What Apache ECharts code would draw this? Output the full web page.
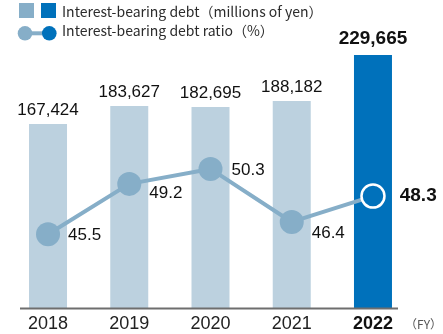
<!DOCTYPE html>
<html>
<head>
<meta charset="utf-8">
<script src="https://cdn.jsdelivr.net/npm/echarts@6/dist/echarts.min.js"></script>
<style>
  html, body { margin: 0; padding: 0; background: #fff; }
  #chart { width: 443px; height: 334px; }
</style>
</head>
<body>
<div id="chart"></div>
<script>
// Fiscal years on the horizontal axis
const years = ['2018', '2019', '2020', '2021', '2022'];
// Interest-bearing debt, millions of yen
const debt = [167424, 183627, 182695, 188182, 229665];
// Interest-bearing debt ratio, %
const debtRatio = [45.5, 49.2, 50.3, 46.4, 48.3];

const LIGHT_BAR = '#bcd1df';
const DARK_BAR = '#0071bb';
const LINE = '#86aec8';
const NUM_FONT = '"Liberation Sans", Arial, sans-serif';
const TEXT_FONT = '"Noto Sans CJK JP", "Noto Sans", sans-serif';
const last = years.length - 1;

const chart = echarts.init(document.getElementById('chart'), null, { renderer: 'canvas' });

const barData = debt.map((v, i) => {
  const current = i === last;
  return {
    value: v,
    itemStyle: { color: current ? DARK_BAR : LIGHT_BAR },
    label: current
      ? { fontSize: 19, fontWeight: 'bold', distance: 7 }
      : { fontSize: 17, fontWeight: 'normal', distance: 5 }
  };
});

// per-point label nudges so the values sit beside their markers
const ratioLabelOffsets = [[0, 1], [0, 9], [1, 1], [0, 11], [0, 0]];
const lineData = debtRatio.map((v, i) => {
  const current = i === last;
  return {
    value: v,
    itemStyle: current
      ? { color: DARK_BAR, borderColor: '#ffffff', borderWidth: 2.5 }
      : { color: LINE },
    symbolSize: current ? 23 : 24,
    label: current
      ? { fontSize: 19, fontWeight: 'bold', distance: 14, offset: ratioLabelOffsets[i] }
      : { fontSize: 17, fontWeight: 'normal', distance: 8, offset: ratioLabelOffsets[i] }
  };
});

chart.setOption({
  animation: false,
  grid: { left: 7.4, right: 29.4, top: 37, bottom: 25, containLabel: false },
  xAxis: {
    type: 'category',
    data: years,
    axisLine: { show: false },
    axisTick: { show: false },
    axisLabel: {
      interval: 0,
      margin: 6,
      fontFamily: NUM_FONT,
      fontSize: 18,
      color: '#222',
      formatter: (v, i) => (i === last ? '{b|' + v + '}' : v),
      rich: { b: { fontFamily: NUM_FONT, fontSize: 18, fontWeight: 'bold', color: '#111' } }
    }
  },
  yAxis: [
    { type: 'value', min: 0, max: 246000, show: false, splitLine: { show: false } },
    { type: 'value', min: 40, max: 60, show: false, splitLine: { show: false } }
  ],
  series: [
    {
      type: 'bar',
      data: barData,
      barWidth: 38,
      label: {
        show: true,
        position: 'top',
        fontFamily: NUM_FONT,
        color: '#111',
        formatter: p => p.value.toLocaleString('en-US')
      },
      z: 1
    },
    {
      type: 'line',
      yAxisIndex: 1,
      data: lineData,
      symbol: 'circle',
      lineStyle: { color: LINE, width: 4 },
      label: {
        show: true,
        position: 'right',
        fontFamily: NUM_FONT,
        color: '#111',
        formatter: p => p.value.toFixed(1)
      },
      z: 3
    }
  ],
  graphic: [
    // baseline under the bars
    { type: 'line', shape: { x1: 20, y1: 308.5, x2: 398, y2: 308.5 }, style: { stroke: '#6e6e6e', lineWidth: 2 }, z: 10 },
    // legend: bars
    { type: 'rect', shape: { x: 19, y: 3, width: 15, height: 15 }, style: { fill: LINE } },
    { type: 'rect', shape: { x: 41, y: 3, width: 15, height: 15 }, style: { fill: DARK_BAR } },
    { type: 'text', x: 62, y: 11.5, style: { text: 'Interest-bearing debt（millions of yen）', font: '14px ' + TEXT_FONT, fill: '#2b2b2b', verticalAlign: 'middle' } },
    // legend: ratio line
    { type: 'line', shape: { x1: 25, y1: 33.3, x2: 49, y2: 33.3 }, style: { stroke: LINE, lineWidth: 4 } },
    { type: 'circle', shape: { cx: 25, cy: 33.3, r: 7.3 }, style: { fill: LINE } },
    { type: 'circle', shape: { cx: 49.3, cy: 33.3, r: 7.3 }, style: { fill: DARK_BAR } },
    { type: 'text', x: 62, y: 30.5, style: { text: 'Interest-bearing debt ratio（%）', font: '14px ' + TEXT_FONT, fill: '#2b2b2b', verticalAlign: 'middle' } },
    // fiscal-year unit
    { type: 'text', x: 442, y: 324, style: { text: '（FY）', font: '12px ' + TEXT_FONT, fill: '#555', align: 'right', verticalAlign: 'middle' } }
  ]
});
</script>
</body>
</html>
